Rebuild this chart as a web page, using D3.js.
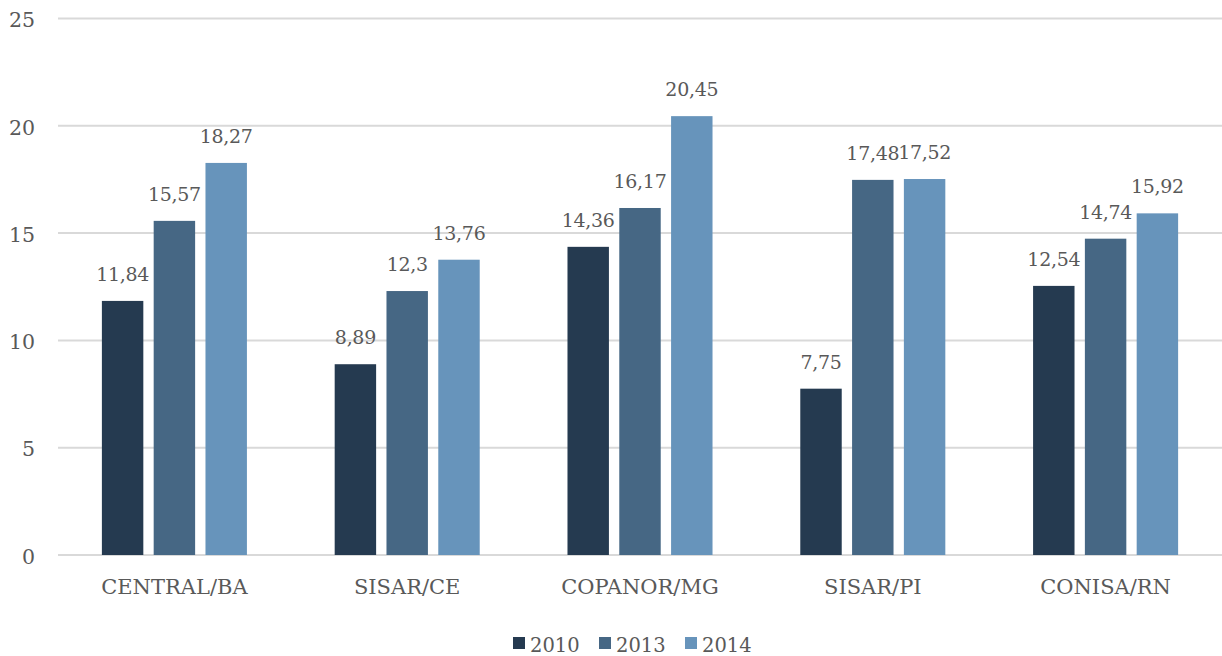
<!DOCTYPE html>
<html>
<head>
<meta charset="utf-8">
<script src="https://cdn.jsdelivr.net/npm/d3@7"></script>
<style>
  body { margin: 0; background: #fff; }
</style>
</head>
<body>
<script>
// chart data
var categories = ["CENTRAL/BA", "SISAR/CE", "COPANOR/MG", "SISAR/PI", "CONISA/RN"];
var years = ["2010", "2013", "2014"];
var v2010 = [11.84, 8.89, 14.36, 7.75, 12.54];
var v2013 = [15.57, 12.3, 16.17, 17.48, 14.74];
var v2014 = [18.27, 13.76, 20.45, 17.52, 15.92];
var yTicks = [0, 5, 10, 15, 20, 25];
var colors = ["#253a50", "#466784", "#6794bb"];

var w = 1222, h = 656;
var mLeft = 58, mRight = 1222, mTop = 18.5, mBottom = 555;
var ff = "DejaVu Serif";

var series = [v2010, v2013, v2014];
var rows = categories.map(function(c, i) {
    return { cat: c, vals: series.map(function(s, j) { return { year: years[j], v: s[i], k: j }; }) };
});

var svg = d3.select("body").append("svg")
    .attr("width", w)
    .attr("height", h)
    .attr("font-family", ff);

var x0 = d3.scaleBand().domain(categories).range([mLeft, mRight]).paddingInner(0.377).paddingOuter(0.1885);
var x1 = d3.scaleBand().domain(years).range([0, x0.bandwidth()]).paddingInner(0.2);
var y = d3.scaleLinear().domain([0, 25]).range([mBottom, mTop]);

// gridlines
svg.append("g")
    .selectAll("line")
    .data(yTicks)
    .enter()
    .append("line")
    .attr("x1", mLeft)
    .attr("x2", mRight)
    .attr("y1", function(d) { return y(d); })
    .attr("y2", function(d) { return y(d); })
    .attr("stroke", "#d9d9d9")
    .attr("stroke-width", 2);

// y axis labels
var yAxis = d3.axisLeft(y).tickValues(yTicks).tickSize(0);
var ya = svg.append("g").attr("transform", "translate(" + mLeft + ",0)").call(yAxis);
ya.select(".domain").remove();
ya.attr("font-family", ff).attr("font-size", "20.5px");
ya.selectAll("text")
    .attr("fill", "#595959")
    .attr("x", -23)
    .attr("dy", "0.4em");

// bars
var groups = svg.selectAll(".grp")
    .data(rows)
    .enter()
    .append("g")
    .attr("class", "grp")
    .attr("transform", function(d) { return "translate(" + x0(d.cat) + ",0)"; });

groups.selectAll("rect")
    .data(function(d) { return d.vals; })
    .enter()
    .append("rect")
    .attr("x", function(d) { return x1(d.year); })
    .attr("y", function(d) { return y(d.v); })
    .attr("width", x1.bandwidth())
    .attr("height", function(d) { return y(0) - y(d.v); })
    .attr("fill", function(d) { return colors[d.k]; });

// value labels
groups.selectAll("text")
    .data(function(d) { return d.vals; })
    .enter()
    .append("text")
    .attr("x", function(d) { return x1(d.year) + x1.bandwidth() / 2; })
    .attr("y", function(d) { return y(d.v) - 20; })
    .attr("text-anchor", "middle")
    .attr("font-family", ff)
    .attr("font-size", "19px")
    .attr("letter-spacing", "-0.3px")
    .attr("fill", "#595959")
    .text(function(d) { return String(d.v).replace(".", ","); });

// x axis labels
var xAxis = d3.axisBottom(x0).tickSize(0);
var xa = svg.append("g").attr("transform", "translate(0," + mBottom + ")").call(xAxis);
xa.select(".domain").remove();
xa.attr("font-family", ff).attr("font-size", "21px");
xa.selectAll("text")
    .attr("fill", "#595959")
    .attr("y", 39)
    .attr("dy", null);

// legend
var legX = [513, 599, 685];
var leg = svg.selectAll(".leg")
    .data(years)
    .enter()
    .append("g")
    .attr("class", "leg")
    .attr("transform", function(d, i) { return "translate(" + legX[i] + ",637)"; });
leg.append("rect")
    .attr("width", 12)
    .attr("height", 12)
    .attr("fill", function(d, i) { return colors[i]; });
leg.append("text")
    .attr("x", 17)
    .attr("y", 15)
    .attr("font-family", ff)
    .attr("font-size", "19.5px")
    .attr("fill", "#595959")
    .text(function(d) { return d; });
</script>
</body>
</html>
